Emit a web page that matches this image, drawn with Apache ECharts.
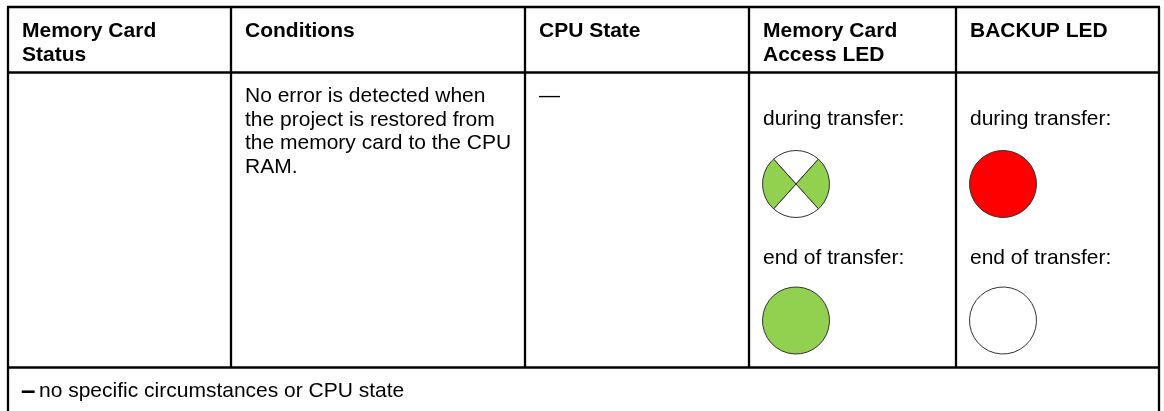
<!DOCTYPE html>
<html><head><meta charset="utf-8">
<style>html,body{margin:0;padding:0;background:#fff}#c{width:1164px;height:411px}</style>
<script src="https://cdn.jsdelivr.net/npm/echarts@6/dist/echarts.min.js"></script>
</head><body><div id="c"></div>
<script>
const headers = [
  ["Memory Card", "Status"],
  ["Conditions"],
  ["CPU State"],
  ["Memory Card", "Access LED"],
  ["BACKUP LED"]
];
const conditions = ["No error is detected when", "the project is restored from", "the memory card to the CPU", "RAM."];
const cpuState = "—";
const phaseLabels = ["during transfer:", "end of transfer:"];
const footnoteDash = "–";
const footnote = "no specific circumstances or CPU state";
const GREEN = "#92d050", RED = "#ff0000", WHITE = "#ffffff";
const accessDuringColors = [WHITE, GREEN, WHITE, GREEN];
const accessDuringShares = [84, 96, 84, 96];
const accessEndColors = [GREEN];
const backupDuringColors = [RED];
const backupEndColors = [WHITE];
const wholeShare = [360];

const colX = [8, 231, 525, 749, 956, 1159];
const rowY = [7, 72.5, 367.5, 420];
const textX = [22, 245, 539, 763, 970];
const LH = 23.5;
const ASC = 15;
const FONT = '"Liberation Sans", Arial, sans-serif';

const els = [];
const line = (x1, y1, x2, y2) => els.push({type: 'line', silent: true,
  shape: {x1, y1, x2, y2}, style: {stroke: '#000', lineWidth: 2.3}});
const text = (x, base, t, bold, size) => els.push({type: 'text', silent: true, x, y: base - ASC,
  style: {text: t, fill: '#000', font: (bold ? 'bold ' : '') + (size || 21) + 'px ' + FONT,
          textAlign: 'left', textVerticalAlign: 'top'}});

rowY.slice(0, 3).forEach(y => line(colX[0] - 1, y, colX[5] + 1, y));
line(colX[0], rowY[0], colX[0], rowY[3]);
line(colX[5], rowY[0], colX[5], rowY[3]);
colX.slice(1, 5).forEach(x => line(x, rowY[0], x, rowY[2]));

headers.forEach((h, i) => h.forEach((t, j) => text(textX[i], 36 + j * LH, t, true)));
conditions.forEach((t, j) => text(textX[1], 101 + j * LH, t));
text(textX[2], 101, cpuState);
[3, 4].forEach(i => { text(textX[i], 124, phaseLabels[0]); text(textX[i], 263, phaseLabels[1]); });
text(21, 394, footnoteDash, true, 26);
text(39, 396, footnote);

const led = (colors, shares, cx, cy) => ({
  type: 'pie', silent: true, animation: false, startAngle: 132, clockwise: true,
  center: [cx, cy], radius: [0, 33.5], label: {show: false}, labelLine: {show: false},
  data: colors.map((c, i) => ({value: shares[i], itemStyle: {color: c, borderColor: '#333', borderWidth: 1}}))
});

echarts.init(document.getElementById('c'), null, {renderer: 'canvas'}).setOption({
  animation: false,
  backgroundColor: '#fff',
  graphic: {elements: els},
  series: [
    led(accessDuringColors, accessDuringShares, 796, 184),
    led(backupDuringColors, wholeShare, 1003, 184),
    led(accessEndColors, wholeShare, 796, 320.5),
    led(backupEndColors, wholeShare, 1003, 320.5)
  ]
});
</script></body></html>
